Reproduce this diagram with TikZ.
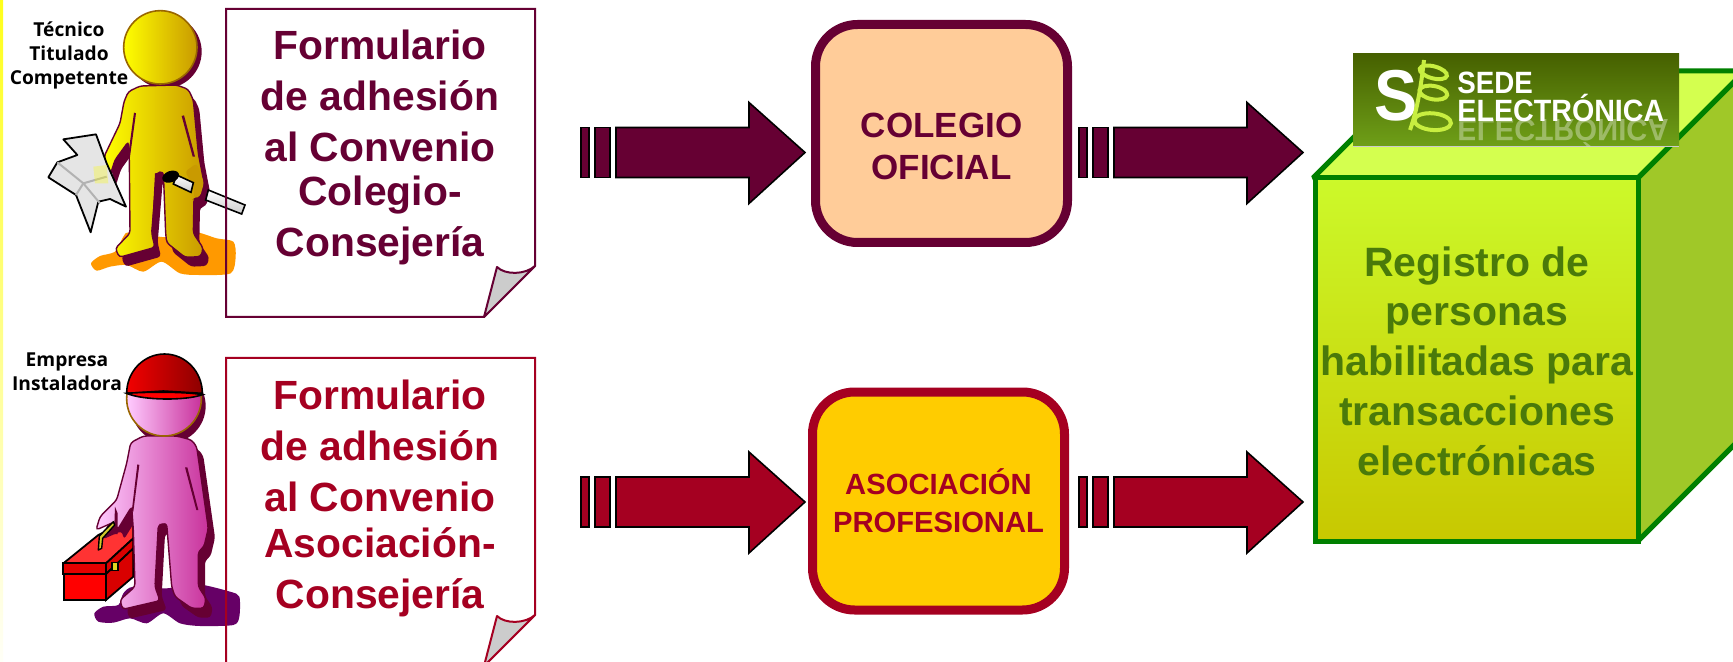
\documentclass[tikz,border=0pt]{standalone}
\usepackage{graphicx}
\usepackage{fontspec}
\setmainfont{Liberation Sans}
\newfontfamily\labelfont{Open Sans}
\definecolor{maroonA}{HTML}{660033}
\definecolor{crimB}{HTML}{A50021}
\definecolor{peach}{HTML}{FFCC99}
\definecolor{goldbox}{HTML}{FFCC00}
\definecolor{cubeline}{HTML}{008000}
\definecolor{cubetext}{HTML}{4A7A0A}
\definecolor{cubetop}{HTML}{D4FF4F}
\definecolor{cubeside}{HTML}{A0C828}
\definecolor{cubeA}{HTML}{CCF92A}
\definecolor{cubeB}{HTML}{C8C800}
\definecolor{orangeblob}{HTML}{FF9900}
\definecolor{purpleblob}{HTML}{660066}
\definecolor{coil}{HTML}{C8EE40}
\definecolor{goldL}{HTML}{FFFF00}
\definecolor{goldR}{HTML}{C99A00}
\definecolor{headline}{HTML}{996600}
\definecolor{pinkL}{HTML}{FFCCFF}
\definecolor{pinkR}{HTML}{C8329B}
\definecolor{bannerA}{HTML}{466000}
\definecolor{bannerB}{HTML}{6FA018}
\tikzset{
 doctext/.style={font=\bfseries\fontsize{20.4}{25.6}\selectfont,align=center,anchor=center,inner sep=0},
 personlabel/.style={font=\labelfont\bfseries\fontsize{9.6}{12}\selectfont,align=center,inner sep=0,text=black},
 orgbox/.style={rounded corners=21pt,line width=4.5pt},
 blockarrow/.style={line width=.8pt,draw=black,miter limit=10},
 zoomunits/.style={x=0.166667pt,y=-0.166667pt},
 soft/.style={rounded corners=1.6pt},
}
% name, x start, y centre, colour
\newcommand{\blockarr}[4]{%
 \coordinate (#1) at (#2,#3);
 \path[blockarrow,fill=#4] (#1) ++(0,-25) rectangle ++(8,50);
 \path[blockarrow,fill=#4] (#1) ++(14,-25) rectangle ++(15,50);
 \path[blockarrow,fill=#4] (#1) ++(35,-25) -- ++(133,0) -- ++(0,-25) -- ++(56,50) -- ++(-56,51) -- ++(0,-26) -- ++(-133,0) -- cycle;
}
% outline and fold of a sheet, with top y #1 and colour #2
\newcommand{\sheetoutline}[2]{%
 \draw[line width=1pt,#2] (226,#1) -- (535,#1) -- (535,#1+257) -- (484,#1+308) -- (226,#1+308) -- cycle;
 \draw[line width=1pt,#2,fill=black!20,line join=round] (484,#1+308) -- (497,#1+258) .. controls (505,#1+266) and (525,#1+266) .. (535,#1+257) -- cycle;
}
\begin{document}
\begin{tikzpicture}[x=0.5pt,y=-0.5pt]
\useasboundingbox (0,0) rectangle (1733,662);
\clip (0,0) rectangle (1733,662);
\fill[white] (0,0) rectangle (1733,662);
\shade[top color=yellow!90!white,bottom color=yellow!3!white] (0,0) rectangle (3,662);

% sheets, white grounds
\fill[white] (226,9) rectangle (535,317);
\fill[white] (226,358) rectangle (535,666);

% person A
\begin{scope}[zoomunits]
 \def\bodyA{(420,258) -- (385,275) -- (372,305) -- (360,370) -- (312,470) -- (330,527) -- (345,480) -- (385,425) -- (388,480) -- (390,700) -- (346,745) -- (358,772) -- (465,742) -- (455,700) -- (470,518) -- (490,515) -- (497,700) -- (500,728) -- (555,772) -- (602,770) -- (610,745) -- (580,700) -- (582,595) -- (600,590) -- (612,548) -- (595,460) -- (580,300) -- (565,268) -- (530,255) -- cycle}
 \fill[orangeblob] plot[smooth cycle,tension=.45] coordinates {(273,790) (300,768) (345,755) (370,710) (390,697) (500,712) (580,695) (650,715) (700,725) (707,770) (692,820) (600,825) (540,820) (485,785) (430,815) (380,795) (330,800) (290,812)};
 \fill[maroonA] (495,155) circle[radius=110];
 \fill[maroonA,soft,shift={(18,28)}] \bodyA;
 \draw[maroonA,soft,left color=goldL,right color=goldR,line width=.7pt] \bodyA;
 \fill[maroonA] (402,338) -- (408,340) -- (390,470) -- (384,470) -- cycle;
 \fill[maroonA] (545,348) -- (552,346) -- (585,470) -- (578,470) -- cycle;
 \fill[maroonA] (465,520) -- (482,518) -- (470,700) -- (455,700) -- cycle;
 \draw[line width=.9pt,fill=black!10,line join=round] (190,418) -- (288,403) -- (320,490) -- (378,620) -- (330,597) -- (295,605) -- (272,697) -- (228,585) -- (145,532) -- (172,487) -- (232,465) -- cycle;
 \draw[black!30,line width=1pt] (172,487) -- (250,550) -- (300,610);
 \draw[black!30,line width=1pt] (228,585) -- (250,550) -- (320,530);
 \fill[goldL,opacity=.3] (280,500) -- (320,495) -- (325,550) -- (285,550) -- cycle;
 \draw[line width=.8pt,top color=white,bottom color=black!20] (625,570) -- (735,615) -- (725,642) -- (617,600) -- cycle;
 \fill[goldR,soft] (582,595) -- (600,590) -- (612,548) -- (590,490) -- (555,515) -- (582,560) -- cycle;
 \draw[line width=.8pt,top color=white,bottom color=black!20] (530,525) -- (580,548) -- (573,577) -- (520,552) -- cycle;
 \fill[black,rotate around={20:(512,530)}] (512,530) ellipse[x radius=26,y radius=17];
 \draw[line width=.8pt,draw=headline,left color=goldL,right color=goldR] (481,142) circle[radius=110];
\end{scope}

% person B
\begin{scope}[shift={(0,330)},zoomunits]
 \def\bodyB{(430,318) -- (392,338) -- (380,400) -- (350,510) -- (300,560) -- (288,600) -- (345,575) -- (352,600) -- (395,530) -- (400,600) -- (405,770) -- (360,810) -- (368,838) -- (480,812) -- (465,770) -- (475,585) -- (500,580) -- (515,770) -- (525,800) -- (575,835) -- (612,835) -- (618,805) -- (595,770) -- (595,665) -- (612,650) -- (625,595) -- (590,350) -- (575,330) -- (530,318) -- cycle}
 \fill[purpleblob] plot[smooth cycle,tension=.45] coordinates {(283,850) (310,830) (355,825) (370,790) (400,770) (500,775) (590,762) (690,785) (718,800) (718,860) (700,885) (600,888) (540,880) (490,850) (440,880) (390,865) (340,878) (295,875)};
 % toolbox
 \draw[line width=.9pt,fill=red!80!white,line join=round] (190,700) -- (295,615) -- (400,562) -- (400,625) -- (318,700) -- cycle;
 \draw[line width=.9pt,fill=red!85!black] (318,700) -- (400,625) -- (400,655) -- (318,732) -- cycle;
 \draw[line width=.9pt,fill=red!85!black] (318,732) -- (400,655) -- (400,740) -- (318,810) -- cycle;
 \draw[line width=.9pt,fill=red] (192,732) rectangle (318,810);
 \draw[line width=.9pt,fill=red!90!black] (190,700) rectangle (318,732);
 \draw[line width=.6pt,fill=yellow!85!black] (336,698) rectangle (354,722);
 \fill[maroonA] (505,228) circle[radius=112];
 \fill[maroonA,soft,shift={(20,28)}] \bodyB;
 \draw[maroonA,soft,left color=pinkL,right color=pinkR,line width=.7pt] \bodyB;
 \fill[maroonA] (412,403) -- (418,405) -- (400,545) -- (395,545) -- cycle;
 \fill[maroonA] (555,412) -- (562,412) -- (595,540) -- (589,540) -- cycle;
 \fill[maroonA] (478,582) -- (497,580) -- (480,770) -- (465,770) -- cycle;
 \fill[maroonA] (345,530) -- (353,550) -- (353,612) -- (342,612) -- cycle;
 \draw[line width=.7pt,fill=yellow!80!black,line join=round] (295,660) -- (298,618) -- (340,575) -- (344,585) -- (308,625) -- (305,655) -- cycle;
 \draw[line width=.8pt,draw=headline,left color=pinkL,right color=pinkR] (492,206) circle[radius=112];
 \draw[line width=.8pt,left color=red!95!black,right color=red!55!black] (380,190) arc[start angle=180,end angle=360,x radius=113.5,y radius=118] -- (490,183) -- cycle;
 \draw[line width=.8pt,fill=red] (380,190) .. controls (430,186) and (550,184) .. (607,194) .. controls (560,212) and (430,212) .. (380,190) -- cycle;
\end{scope}

\sheetoutline{9}{maroonA}
\sheetoutline{358}{crimB}

\node[doctext,text=maroonA] (docA) at (380,147.5) {Formulario\\de adhesión\\al Convenio\\[-3.5pt]Colegio-\\Consejería};
\node[doctext,text=crimB] (docB) at (380,498.5) {Formulario\\de adhesión\\al Convenio\\[-2.5pt]Asociación-\\Consejería};
\node[personlabel] (labA) at (69,55) {Técnico\\Titulado\\Competente};
\node[personlabel] (labB) at (67,372) {Empresa\\Instaladora};

% organisations
\node[orgbox,draw=maroonA,fill=peach,minimum width=126pt,minimum height=109pt,inner sep=0] (colegio) at (941.5,133.5) {};
\node[text=maroonA,font=\bfseries\fontsize{17.5}{21}\selectfont,align=center,inner sep=0] (colegiotext) at (941.5,146.5) {COLEGIO\\OFICIAL};
\node[orgbox,draw=crimB,fill=goldbox,minimum width=126pt,minimum height=109pt,inner sep=0,text=crimB,font=\bfseries\fontsize{14.6}{18.8}\selectfont,align=center] (asociacion) at (938.5,501) {ASOCIACIÓN\\PROFESIONAL};

% arrows
\blockarr{arrA}{581}{152.5}{maroonA}
\blockarr{arrB}{1079}{152.5}{maroonA}
\blockarr{arrC}{581}{502}{crimB}
\blockarr{arrD}{1079}{502}{crimB}

% cube
\draw[line width=2.5pt,cubeline,fill=cubetop,line join=bevel] (1313,178) -- (1420,71) -- (1745,71) -- (1638,178) -- cycle;
\draw[line width=2.5pt,cubeline,fill=cubeside,line join=bevel] (1638,178) -- (1745,71) -- (1745,434) -- (1638,541) -- cycle;
\draw[line width=2.5pt,cubeline,top color=cubeA,bottom color=cubeB,line join=miter] (1315,178) rectangle (1638,541);
\node[text=cubetext,font=\bfseries\fontsize{20.5}{24.9}\selectfont,align=center,inner sep=0] (registro) at (1477,361) {Registro de\\personas\\habilitadas para\\transacciones\\electrónicas};

% banner
\shade[top color=bannerA,bottom color=bannerB] (1353,54) rectangle (1679,147);
\fill[black!20] (1353,146) rectangle (1679,147.5);
\node[inner sep=0,text=white,font=\bfseries] (bannerS) at (1396,96) {\scalebox{.9}[1]{\fontsize{36}{36}\selectfont S}};
\node[inner sep=0,text=white,anchor=west,font=\bfseries] (bannerA) at (1457,83) {\scalebox{.9}[1]{\fontsize{15.4}{15.4}\selectfont SEDE}};
\node[inner sep=0,text=white,anchor=west,font=\bfseries] (bannerB) at (1457,108) {\scalebox{.93}[1]{\fontsize{15.4}{15.4}\selectfont ELECTRÓNICA}};
\node[inner sep=0,text=white,text opacity=.35,anchor=west,font=\bfseries] (bannerC) at (1457,133) {\scalebox{.95}[-1]{\fontsize{15.4}{15.4}\selectfont ELECTRÓNICA}};
\begin{scope}[shift={(1290,30)},zoomunits]
 \draw[coil,line width=2pt] (402,90) .. controls (395,150) and (385,230) .. (360,300);
 \draw[coil,line width=2pt] (430,127) ellipse[x radius=42,y radius=18,rotate=-15];
 \draw[coil,line width=2pt] (430,188) ellipse[x radius=42,y radius=20,rotate=-10];
 \draw[coil,line width=2pt] (428,275) ellipse[x radius=55,y radius=25,rotate=-5];
\end{scope}
\end{tikzpicture}
\end{document}
